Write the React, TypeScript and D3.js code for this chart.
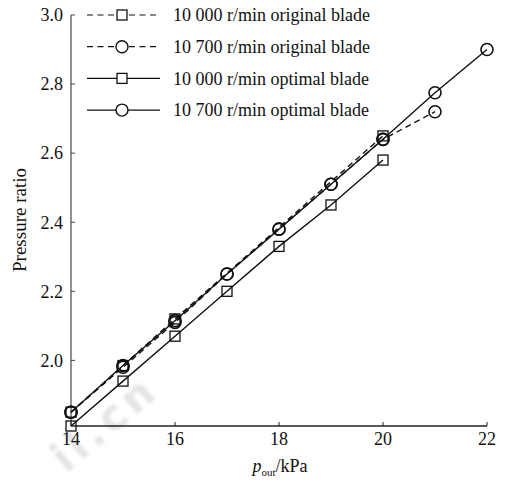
import React from "react";
import * as d3 from "d3";

// Outlet pressure (kPa) and pressure ratio for each blade/speed case
const pOutOrig10000 = [14, 15, 16, 20];
const prOrig10000 = [1.85, 1.985, 2.12, 2.65];

const pOutOrig10700 = [14, 15, 16, 17, 18, 19, 20, 21];
const prOrig10700 = [1.85, 1.98, 2.11, 2.25, 2.38, 2.51, 2.64, 2.72];

const pOutOpt10000 = [14, 15, 16, 17, 18, 19, 20];
const prOpt10000 = [1.81, 1.94, 2.07, 2.2, 2.33, 2.45, 2.58];

const pOutOpt10700 = [14, 15, 16, 17, 18, 19, 20, 21, 22];
const prOpt10700 = [1.85, 1.985, 2.115, 2.25, 2.38, 2.51, 2.64, 2.775, 2.9];

const xTicks = [14, 16, 18, 20, 22];
const yTicks = [2.0, 2.2, 2.4, 2.6, 2.8, 3.0];

const legendLabels = [
  "10 000 r/min original blade",
  "10 700 r/min original blade",
  "10 000 r/min optimal blade",
  "10 700 r/min optimal blade",
];

const W = 508;
const H = 483;
const FONT = "Liberation Serif";

type Series = {
  xs: number[];
  ys: number[];
  dashed: boolean;
  marker: "square" | "circle";
};

const series: Series[] = [
  { xs: pOutOrig10000, ys: prOrig10000, dashed: true, marker: "square" },
  { xs: pOutOrig10700, ys: prOrig10700, dashed: true, marker: "circle" },
  { xs: pOutOpt10000, ys: prOpt10000, dashed: false, marker: "square" },
  { xs: pOutOpt10700, ys: prOpt10700, dashed: false, marker: "circle" },
];

const x = d3.scaleLinear().domain([14, 22]).range([71, 487]);
const y = d3.scaleLinear().domain([1.81, 3.0]).range([426, 15]);

const SQ = 10;
const CR = 6;

function Marker({ kind, cx, cy }: { kind: string; cx: number; cy: number }) {
  if (kind === "square") {
    return (
      <rect
        x={cx - SQ / 2}
        y={cy - SQ / 2}
        width={SQ}
        height={SQ}
        fill="none"
        stroke="#111"
        strokeWidth={1.3}
      />
    );
  }
  return <circle cx={cx} cy={cy} r={CR} fill="none" stroke="#111" strokeWidth={1.6} />;
}

export default function App() {
  const line = d3
    .line<[number, number]>()
    .x((d) => x(d[0]))
    .y((d) => y(d[1]));

  return (
    <div style={{ position: "absolute", left: 0, top: 0 }}>
      <svg
        width={W}
        height={H}
        style={{ display: "block", background: "#fff", fontFamily: "'Liberation Serif', serif" }}
      >
        <defs>
          <filter id="soft" x="-20%" y="-20%" width="140%" height="140%">
            <feGaussianBlur stdDeviation="1.5" />
          </filter>
        </defs>
        <rect width={W} height={H} fill="#fff" />

        {/* faint site watermark */}
        <g filter="url(#soft)" opacity={0.4}>
          <text
            transform="translate(66,474) rotate(-40)"
            fontFamily="DejaVu Sans"
            fontWeight="bold"
            fontSize={42}
            fill="#bdbdbd"
            letterSpacing={5}
          >
            il.cn
          </text>
        </g>

        {/* axes */}
        <line x1={71} x2={71} y1={y(3.0)} y2={426} stroke="#555" strokeWidth={1.3} />
        <line x1={71} x2={487} y1={426} y2={426} stroke="#222" strokeWidth={1.3} />
        {yTicks.map((t) => (
          <g key={"y" + t}>
            <line x1={71} x2={75} y1={y(t)} y2={y(t)} stroke="#444" strokeWidth={1} />
            <text
              x={63}
              y={y(t)}
              dy="0.35em"
              textAnchor="end"
              fontFamily={FONT}
              fontSize={18}
              fill="#111"
            >
              {t.toFixed(1)}
            </text>
          </g>
        ))}
        {xTicks.map((t) => (
          <g key={"x" + t}>
            <line x1={x(t)} x2={x(t)} y1={426} y2={422} stroke="#222" strokeWidth={1} />
            <text
              x={x(t)}
              y={445}
              textAnchor="middle"
              fontFamily={FONT}
              fontSize={18}
              fill="#111"
            >
              {t}
            </text>
          </g>
        ))}

        <text
          transform="translate(26,220) rotate(-90)"
          textAnchor="middle"
          fontFamily={FONT}
          fontSize={19}
          fill="#111"
        >
          Pressure ratio
        </text>
        <text x={280} y={472} textAnchor="middle" fontFamily={FONT} fontSize={18} fill="#111">
          <tspan fontStyle="italic">p</tspan>
          <tspan fontSize={11} dy={4}>
            out
          </tspan>
          <tspan dy={-4}>/kPa</tspan>
        </text>

        {/* data lines */}
        {series.map((s, i) => (
          <path
            key={"l" + i}
            d={line(s.xs.map((v, j) => [v, s.ys[j]] as [number, number])) || ""}
            fill="none"
            stroke="#111"
            strokeWidth={1.4}
            strokeDasharray={s.dashed ? "6,4" : undefined}
          />
        ))}
        {series.map((s, i) => (
          <g key={"m" + i}>
            {s.xs.map((v, j) => (
              <Marker key={j} kind={s.marker} cx={x(v)} cy={y(s.ys[j])} />
            ))}
          </g>
        ))}

        {/* legend */}
        {series.map((s, i) => {
          const cy = 15 + i * 31.7;
          return (
            <g key={"lg" + i}>
              <line
                x1={87}
                x2={160}
                y1={cy}
                y2={cy}
                stroke="#111"
                strokeWidth={1.2}
                strokeDasharray={s.dashed ? "6,4.5" : undefined}
              />
              {s.marker === "square" ? (
                <rect
                  x={122 - SQ / 2}
                  y={cy - SQ / 2}
                  width={SQ}
                  height={SQ}
                  fill="#fff"
                  stroke="#111"
                  strokeWidth={1.3}
                />
              ) : (
                <circle cx={122} cy={cy} r={CR} fill="#fff" stroke="#111" strokeWidth={1.4} />
              )}
              <text
                x={173}
                y={cy}
                dy="0.35em"
                fontFamily={FONT}
                fontSize={18}
                fill="#111"
              >
                {legendLabels[i]}
              </text>
            </g>
          );
        })}
      </svg>
    </div>
  );
}
